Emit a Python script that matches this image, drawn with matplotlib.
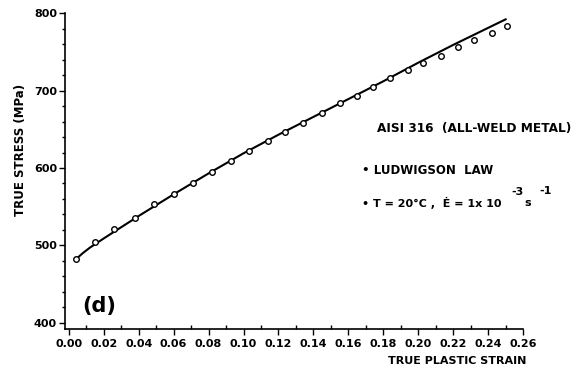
import matplotlib
matplotlib.use("Agg")
import matplotlib.pyplot as plt
from matplotlib.ticker import MultipleLocator

plt.rcParams['font.family'] = ['DejaVu Sans']
plt.rcParams['font.weight'] = 'bold'

# measured points (open circles)
strain_pts = [0.004, 0.015, 0.026, 0.038, 0.049, 0.060, 0.071, 0.082, 0.093,
              0.103, 0.114, 0.124, 0.134, 0.145, 0.155, 0.165, 0.174, 0.184,
              0.194, 0.203, 0.213, 0.223, 0.232, 0.242, 0.251]
stress_pts = [482, 504, 521, 536, 553, 567, 580, 595, 609,
              622, 635, 646, 658, 671, 684, 693, 705, 716,
              727, 736, 745, 756, 765, 775, 783]

# Ludwigson law fit (solid line)
line_strain = [0.004, 0.008, 0.012, 0.02, 0.04, 0.06, 0.08, 0.10, 0.12,
               0.14, 0.16, 0.18, 0.20, 0.22, 0.24, 0.250]
line_stress = [482, 490, 497, 509, 538, 566, 593, 619, 643,
               666, 689, 712, 736, 759, 781, 792]

x_ticks = [0.00, 0.02, 0.04, 0.06, 0.08, 0.10, 0.12, 0.14, 0.16, 0.18,
           0.20, 0.22, 0.24, 0.26]
y_ticks = [400, 500, 600, 700, 800]
y_minor = [420, 440, 460, 480, 520, 540, 560, 580, 620, 640, 660, 680,
           720, 740, 760, 780]

fig = plt.figure(figsize=(5.78, 3.76), dpi=100)
ax = fig.add_axes([0.113, 0.125, 0.792, 0.840])

ax.plot(line_strain, line_stress, color='black', lw=1.5)
ax.plot(strain_pts, stress_pts, 'o', mfc='white', mec='black', ms=4, mew=1.0)

ax.set_xlim(-0.002, 0.26)
ax.set_ylim(392, 800)
ax.set_xticks(x_ticks)
ax.set_xticklabels(['%.2f' % v for v in x_ticks])
ax.set_yticks(y_ticks)
ax.xaxis.set_minor_locator(MultipleLocator(0.01))
ax.set_yticks(y_minor, minor=True)
ax.tick_params(axis='x', which='major', direction='out', length=4, width=1,
               labelsize=8, pad=3)
ax.tick_params(axis='x', which='minor', direction='in', length=3, width=1)
ax.tick_params(axis='y', which='major', direction='out', length=4, width=1,
               labelsize=8, pad=2)
ax.tick_params(axis='y', which='minor', direction='out', length=2, width=1)
for s in ['top', 'right']:
    ax.spines[s].set_visible(False)
for s in ['left', 'bottom']:
    ax.spines[s].set_linewidth(1.2)

ax.set_xlabel('TRUE PLASTIC STRAIN', fontsize=8, fontweight='bold')
ax.xaxis.set_label_coords(1.008, -0.085)
ax.xaxis.label.set_ha('right')
fig.text(0.035, 0.6, 'TRUE STRESS (MPa)', rotation=90, fontsize=8.5,
         fontweight='bold', ha='center', va='center')

ax.text(0.037, 0.073, '(d)', transform=ax.transAxes, fontsize=15,
        fontweight='bold', ha='left', va='center')

ax.text(0.68, 0.636, 'AISI 316  (ALL-WELD METAL)', transform=ax.transAxes,
        fontsize=8.7, fontweight='bold', ha='left', va='center')
ax.text(0.648, 0.503, '• LUDWIGSON  LAW', transform=ax.transAxes,
        fontsize=8.5, fontweight='bold', ha='left', va='center')
ax.text(0.648, 0.400, '• T = 20°C ,  Ė = 1x 10', transform=ax.transAxes,
        fontsize=8, fontweight='bold', ha='left', va='center')
ax.text(0.987, 0.434, '-3', transform=ax.transAxes,
        fontsize=8, fontweight='bold', ha='center', va='center')
ax.text(1.011, 0.400, 's', transform=ax.transAxes,
        fontsize=8, fontweight='bold', ha='center', va='center')
ax.text(1.048, 0.438, '-1', transform=ax.transAxes,
        fontsize=8, fontweight='bold', ha='center', va='center')

fig.savefig('out.png', dpi=100)
